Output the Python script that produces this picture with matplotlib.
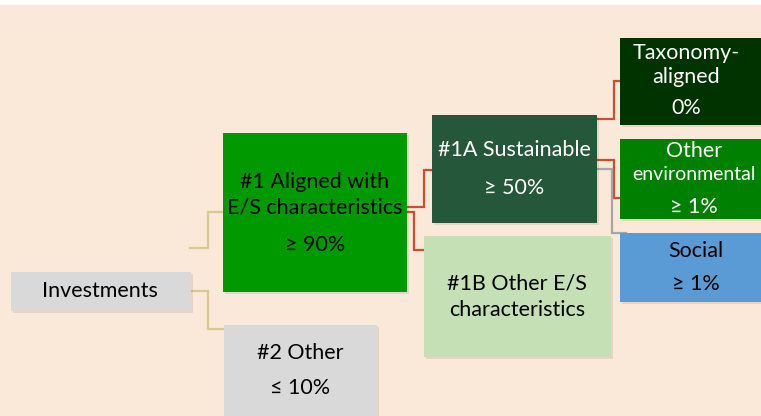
import matplotlib.pyplot as plt
from matplotlib.patches import Rectangle

plt.rcParams['font.family'] = ['Lato', 'DejaVu Sans']

# box labels (one entry per line of text)
labels = {
    'inv': ['Investments'],
    'other2': ['#2 Other', '≤ 10%'],
    'aligned': ['#1 Aligned with', 'E/S characteristics', '≥ 90%'],
    'sust': ['#1A Sustainable', '≥ 50%'],
    'other1b': ['#1B Other E/S', 'characteristics'],
    'taxo': ['Taxonomy-', 'aligned', '0%'],
    'env': ['Other', 'environmental', '≥ 1%'],
    'social': ['Social', '≥ 1%'],
}

# box geometry in pixels: x0, y0, x1, y1
boxes = {
    'inv': (11, 272, 191, 311),
    'other2': (224, 325, 377, 420),
    'aligned': (223, 133, 407, 292),
    'sust': (432, 115, 597, 223),
    'other1b': (424, 236, 611, 357),
    'taxo': (620, 38, 766, 125),
    'env': (620, 139, 766, 219),
    'social': (620, 233, 766, 302),
}
fills = {
    'inv': '#d9d9d9', 'other2': '#d9d9d9', 'aligned': '#009900',
    'sust': '#25573a', 'other1b': '#c5e0b4', 'taxo': '#003300',
    'env': '#008000', 'social': '#5b9bd5',
}
text_col = {
    'inv': 'black', 'other2': 'black', 'aligned': 'black', 'sust': 'white',
    'other1b': 'black', 'taxo': 'white', 'env': 'white', 'social': 'black',
}
# y of each text line, x of text centre
line_y = {
    'inv': [291], 'other2': [353, 388], 'aligned': [182, 208, 245],
    'sust': [150, 188], 'other1b': [284, 310], 'taxo': [53, 77, 108],
    'env': [151, 175, 207], 'social': [251, 284],
}
text_x = {
    'inv': 100, 'other2': 300, 'aligned': 315, 'sust': 514,
    'other1b': 517, 'taxo': 686, 'env': 694, 'social': 696,
}

# elbow connectors: (x start, y start, x elbow, y end, x end, colour)
links = [
    (190, 248, 208, 212, 223, '#d6cb8e'),
    (191, 291, 208, 329, 224, '#d6cb8e'),
    (407, 207, 424, 170, 432, '#c8502e'),
    (407, 212, 414, 250, 424, '#c8502e'),
    (597, 119, 614, 81, 620, '#c8502e'),
    (597, 160, 614, 198, 620, '#c8502e'),
    (597, 169, 612, 233, 626, '#a6a6a6'),
]

fig = plt.figure(figsize=(7.61, 4.16), dpi=100)
fig.patch.set_facecolor('white')
ax = fig.add_axes([0, 0, 1, 1])
ax.set_xlim(0, 761)
ax.set_ylim(416, 0)
ax.axis('off')

ax.add_patch(Rectangle((0, 5), 761, 420, color='#fae8d8', zorder=0))

for x0, y0, xm, y1, x1, c in links:
    ax.plot([x0, xm, xm, x1], [y0, y0, y1, y1], color=c, lw=1.6,
            solid_joinstyle='miter', zorder=1)

for k, (x0, y0, x1, y1) in boxes.items():
    ax.add_patch(Rectangle((x0 + 2, y0 + 2), x1 - x0, y1 - y0,
                           color='black', alpha=0.08, lw=0, zorder=2))
    ax.add_patch(Rectangle((x0, y0), x1 - x0, y1 - y0,
                           color=fills[k], lw=0, zorder=3))
    for txt, y in zip(labels[k], line_y[k]):
        # the long word would run off the right edge at full size
        fs = 14 if txt == 'environmental' else 15.5
        ax.text(text_x[k], y, txt, ha='center', va='center',
                fontsize=fs, color=text_col[k], zorder=4)

fig.savefig('out.png', dpi=100, facecolor='white')
